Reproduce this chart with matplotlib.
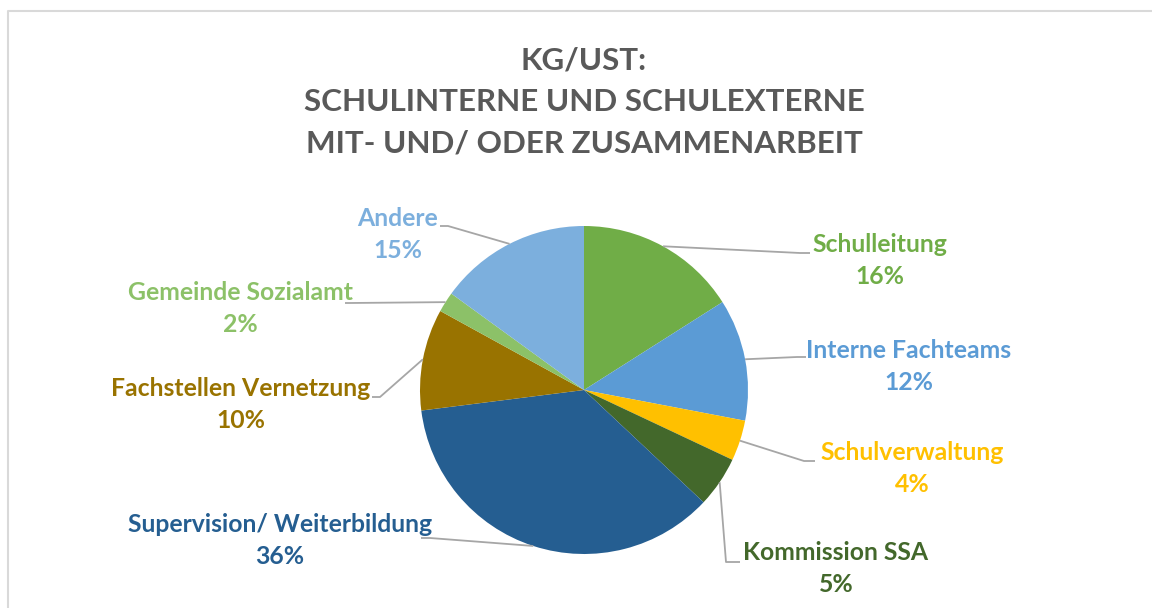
import math

import matplotlib
matplotlib.use("Agg")
import matplotlib.pyplot as plt

plt.rcParams['font.family'] = ['Lato', 'DejaVu Sans']

labels = ["Schulleitung", "Interne Fachteams", "Schulverwaltung", "Kommission SSA",
          "Supervision/ Weiterbildung", "Fachstellen Vernetzung",
          "Gemeinde Sozialamt", "Andere"]
values = [16, 12, 4, 5, 36, 10, 2, 15]
colors = ["#70AD47", "#5B9BD5", "#FFC000", "#43682B",
          "#255E91", "#997300", "#8CC168", "#7CAFDD"]

W, H = 1152, 608
CX, CY, R = 584, 390, 164          # pie centre / radius, image pixels (y down)
GREY, LEAD = "#595959", "#A6A6A6"

# label layout: (text centre x, name line y, elbow point, line end point) in image pixels
layout = [
    (880, 245, (800, 253), (810, 253)),
    (909, 350, (797, 357), (806, 357)),
    (912, 453, (804, 461), (815, 461)),
    (836, 553, (726, 562), (740, 562)),
    (280, 524, (430, 538), (421, 538)),
    (241, 388, (380, 397), (372, 397)),
    (240, 293, (350, 303), (345, 303)),
    (398, 218, (448, 226), (440, 226)),
]

fig = plt.figure(figsize=(W / 100, H / 100), dpi=100, facecolor="white")
ax = fig.add_axes([0, 0, 1, 1])

Y = lambda y: H - y

# chart frame
ax.plot([8, 8, W], [0, Y(10.5), Y(10.5)], color="#D9D9D9", lw=1.5, zorder=1)

ax.pie(values, colors=colors, startangle=90, counterclock=False,
       center=(CX, Y(CY)), radius=R, frame=True, wedgeprops=dict(linewidth=0))
ax.set_xlim(0, W); ax.set_ylim(0, H)
ax.set_aspect("equal"); ax.axis("off")

title = "KG/UST:\nSCHULINTERNE UND SCHULEXTERNE\nMIT- UND/ ODER ZUSAMMENARBEIT"
ax.text(584, Y(102), title, ha="center", va="center", fontsize=22.6,
        fontweight="bold", color=GREY, linespacing=1.58)

cum = 0
for lab, v, col, (tx, ty, elbow, end) in zip(labels, values, colors, layout):
    th = math.radians(90 - 360 * (cum + v / 2) / sum(values))
    cum += v
    sx, sy = CX + R * math.cos(th), CY - R * math.sin(th)
    ax.plot([sx, elbow[0], end[0]], [Y(sy), Y(elbow[1]), Y(end[1])],
            color=LEAD, lw=1.3, zorder=3, solid_capstyle="butt")
    ax.text(tx, Y(ty), lab, ha="center", va="center", fontsize=17.8,
            fontweight="bold", color=col)
    ax.text(tx, Y(ty + 32), f"{v}%", ha="center", va="center", fontsize=17.8,
            fontweight="bold", color=col)

fig.savefig("out.png", dpi=100, facecolor="white")
